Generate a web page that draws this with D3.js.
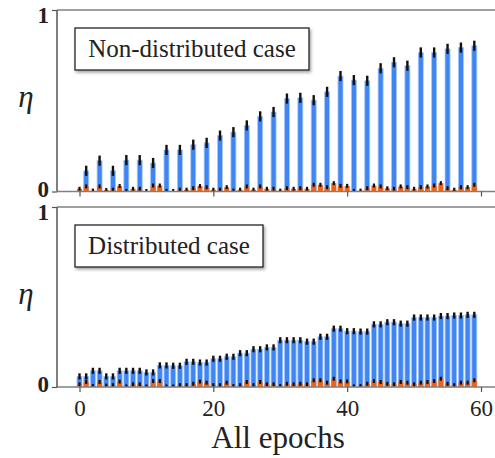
<!DOCTYPE html>
<html>
<head>
<meta charset="utf-8">
<script src="https://cdn.jsdelivr.net/npm/d3@7"></script>
<style>
  body { margin: 0; background: #fff; }
  svg { display: block; font-family: "Liberation Serif", "DejaVu Serif", serif; }
</style>
</head>
<body>
<div id="chart"></div>
<script>
const width = 495;
const height = 458;

// Non-distributed case: blue bars only on odd epochs (1, 3, ..., 59)
const oddEpochs = d3.range(1, 60, 2);
const nonDistValues = [0.114, 0.170, 0.114, 0.173, 0.173, 0.157, 0.229, 0.229, 0.258, 0.268,
  0.308, 0.327, 0.364, 0.414, 0.438, 0.512, 0.516, 0.503, 0.549, 0.636,
  0.614, 0.610, 0.679, 0.712, 0.693, 0.766, 0.766, 0.786, 0.793, 0.803];

// Distributed case: blue bar on every epoch
const allEpochs = d3.range(0, 60);
const distValues = [0.059, 0.059, 0.090, 0.090, 0.059, 0.059, 0.090, 0.090, 0.090, 0.090,
  0.081, 0.081, 0.120, 0.120, 0.118, 0.118, 0.140, 0.140, 0.136, 0.136,
  0.157, 0.157, 0.168, 0.168, 0.188, 0.188, 0.210, 0.210, 0.220, 0.220,
  0.260, 0.260, 0.260, 0.260, 0.252, 0.252, 0.279, 0.279, 0.324, 0.324,
  0.310, 0.310, 0.308, 0.308, 0.348, 0.348, 0.360, 0.360, 0.352, 0.352,
  0.386, 0.386, 0.386, 0.386, 0.394, 0.394, 0.397, 0.397, 0.401, 0.401];

// small orange series, same in both panels
const lowValues = [0.015, 0.028, 0.005, 0.028, 0.008, 0.010, 0.030, 0.003, 0.015, 0.015,
  0.003, 0.033, 0.033, 0.003, 0.003, 0.010, 0.010, 0.018, 0.030, 0.024,
  0.010, 0.010, 0.024, 0.005, 0.010, 0.028, 0.010, 0.028, 0.015, 0.015,
  0.005, 0.018, 0.015, 0.018, 0.015, 0.037, 0.037, 0.024, 0.046, 0.031,
  0.031, 0.003, 0.005, 0.018, 0.033, 0.028, 0.018, 0.015, 0.028, 0.024,
  0.015, 0.024, 0.028, 0.033, 0.046, 0.018, 0.010, 0.024, 0.024, 0.037];

const errNonDist = 0.028;
const errDist = 0.017;
const errLow = 0.011;

const xTicks = [0, 20, 40, 60];
const yTicks = [0, 1];

const blue = "#3f86f4";
const orange = "#f5620f";
const axisColor = "#808080";

const svg = d3.select("#chart").append("svg")
  .attr("width", width)
  .attr("height", height);

const defs = svg.append("defs");
const shadow = defs.append("filter").attr("id", "shadow")
  .attr("x", "-10%").attr("y", "-20%").attr("width", "130%").attr("height", "160%");
shadow.append("feDropShadow")
  .attr("dx", 1.5).attr("dy", 2).attr("stdDeviation", 1.5)
  .attr("flood-color", "#000").attr("flood-opacity", 0.35);

const x = d3.scaleLinear().domain([0, 60]).range([79.5, 481]);
const left = 57, right = 500;
const barW = 5;

const panels = [
  { top: 10, bottom: 191.5, label: "Non-distributed case", boxW: 234,
    epochs: oddEpochs, values: nonDistValues, err: errNonDist, tickLabels: false },
  { top: 207, bottom: 387, label: "Distributed case", boxW: 188,
    epochs: allEpochs, values: distValues, err: errDist, tickLabels: true }
];

panels.forEach(p => {
  const y = d3.scaleLinear().domain([0, 1]).range([p.bottom, p.top]);
  const g = svg.append("g");

  // blue bars
  g.selectAll(".bar").data(p.epochs).join("rect")
    .attr("x", d => x(d) - barW / 2)
    .attr("y", (d, i) => y(p.values[i]))
    .attr("width", barW)
    .attr("height", (d, i) => y(0) - y(p.values[i]))
    .attr("fill", blue)
    .attr("stroke", "#a8c7fa")
    .attr("stroke-width", 0.8);

  // orange bars
  g.selectAll(".low").data(allEpochs).join("rect")
    .attr("x", d => x(d) - barW / 2)
    .attr("y", (d, i) => y(lowValues[i]))
    .attr("width", barW)
    .attr("height", (d, i) => y(0) - y(lowValues[i]))
    .attr("fill", orange);

  // error bars
  g.selectAll(".err").data(p.epochs).join("line")
    .attr("x1", d => x(d)).attr("x2", d => x(d))
    .attr("y1", (d, i) => y(p.values[i] + p.err))
    .attr("y2", (d, i) => y(p.values[i] - p.err))
    .attr("stroke", "#111").attr("stroke-width", 2.4);

  g.selectAll(".errlow").data(allEpochs).join("line")
    .attr("x1", d => x(d)).attr("x2", d => x(d))
    .attr("y1", (d, i) => y(lowValues[i] + errLow))
    .attr("y2", (d, i) => Math.min(y(0), y(lowValues[i] - errLow)))
    .attr("stroke", "#111").attr("stroke-width", 2.2);

  // frame
  g.append("line").attr("x1", left).attr("x2", right).attr("y1", p.top).attr("y2", p.top)
    .attr("stroke", axisColor).attr("stroke-width", 1.5);
  g.append("line").attr("x1", left).attr("x2", right).attr("y1", p.bottom).attr("y2", p.bottom)
    .attr("stroke", axisColor).attr("stroke-width", 1.5);
  g.append("line").attr("x1", left).attr("x2", left).attr("y1", p.top).attr("y2", p.bottom)
    .attr("stroke", "#555").attr("stroke-width", 1.5);

  // x axis
  const xAxis = d3.axisBottom(x).tickValues(xTicks).tickSize(5).tickSizeOuter(0)
    .tickFormat(p.tickLabels ? d3.format("d") : "");
  const xa = g.append("g").attr("transform", `translate(0,${p.bottom})`).call(xAxis);
  xa.select(".domain").remove();
  xa.selectAll(".tick line").attr("stroke", "#555").attr("stroke-width", 1.2);
  xa.selectAll(".tick text")
    .attr("font-family", "Liberation Serif, serif")
    .attr("font-size", 23).attr("fill", "#222").attr("dy", "0.95em").attr("y", 7);

  // y axis
  const yAxis = d3.axisLeft(y).tickValues(yTicks).tickSize(5).tickSizeOuter(0)
    .tickFormat(d3.format("d"));
  const ya = g.append("g").attr("transform", `translate(${left},0)`).call(yAxis);
  ya.select(".domain").remove();
  ya.selectAll(".tick line").attr("stroke", "#555").attr("stroke-width", 1.2);
  ya.selectAll(".tick text")
    .attr("font-family", "Liberation Serif, serif")
    .attr("font-size", 23).attr("font-weight", "bold").attr("fill", "#222")
    .attr("x", -8)
    .attr("dy", d => d === 1 ? "0.55em" : "0.2em");

  // eta label
  g.append("text")
    .attr("x", 26).attr("y", p.top + 97)
    .attr("text-anchor", "middle")
    .attr("font-style", "italic")
    .attr("font-size", 31)
    .attr("fill", "#222")
    .text("η");

  // legend box
  const lg = g.append("g").attr("transform", `translate(75,${p.top + 18})`);
  lg.append("rect")
    .attr("width", p.boxW).attr("height", 42)
    .attr("fill", "#fff").attr("stroke", "#222").attr("stroke-width", 1.3)
    .attr("filter", "url(#shadow)");
  lg.append("text")
    .attr("x", p.boxW / 2).attr("y", 29)
    .attr("text-anchor", "middle")
    .attr("font-size", 25)
    .attr("fill", "#222")
    .text(p.label);
});

svg.append("text")
  .attr("x", 278).attr("y", 448)
  .attr("text-anchor", "middle")
  .attr("font-size", 31)
  .attr("fill", "#222")
  .text("All epochs");
</script>
</body>
</html>
